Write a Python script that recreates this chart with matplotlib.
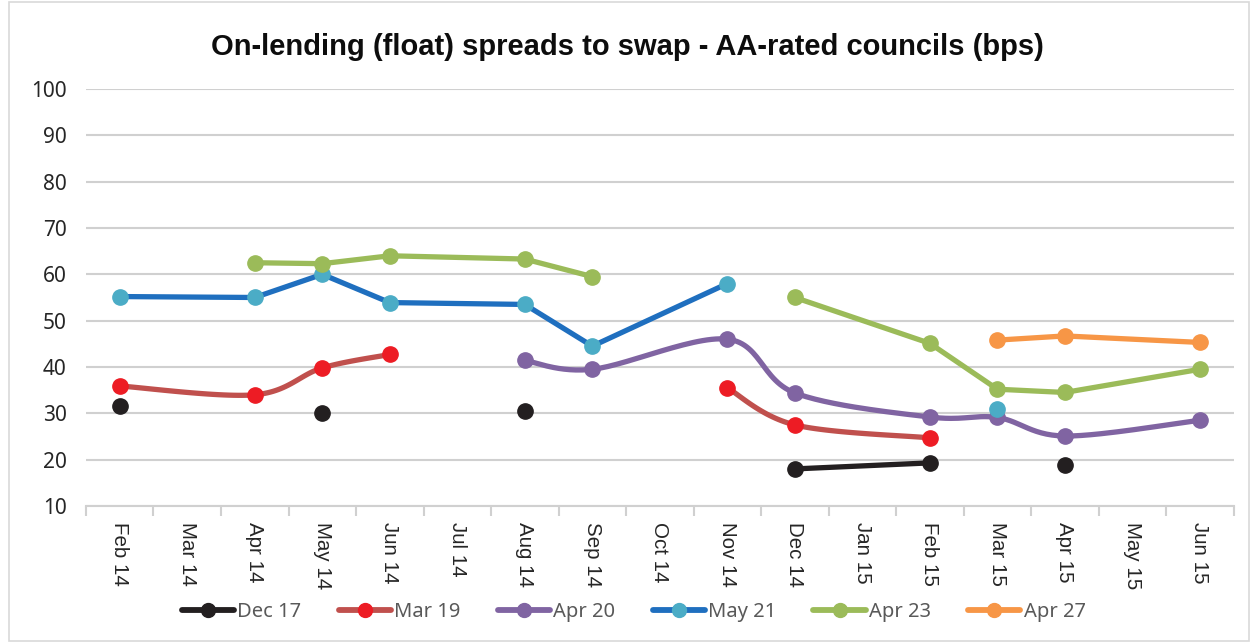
import numpy as np
import matplotlib.pyplot as plt
from matplotlib.lines import Line2D
from matplotlib.patches import Rectangle

plt.rcParams['font.family'] = ['Liberation Sans', 'DejaVu Sans']

months = ["Feb 14", "Mar 14", "Apr 14", "May 14", "Jun 14", "Jul 14", "Aug 14", "Sep 14",
          "Oct 14", "Nov 14", "Dec 14", "Jan 15", "Feb 15", "Mar 15", "Apr 15", "May 15", "Jun 15"]
nan = np.nan

# spreads (bps) by maturity; nan = no quote that month
dec17 = [31.6, nan, nan, 30.1, nan, nan, 30.5, nan, nan, nan, 18.0, nan, 19.3, nan, 18.8, nan, nan]
mar19 = [35.9, nan, 34.0, 39.8, 42.7, nan, nan, nan, nan, 35.5, 27.5, nan, 24.7, nan, nan, nan, nan]
apr20 = [nan, nan, nan, nan, nan, nan, 41.4, 39.5, nan, 46.0, 34.4, nan, 29.2, 29.1, 25.1, nan, 28.5]
may21 = [55.2, nan, 55.0, 60.0, 53.9, nan, 53.5, 44.5, nan, 58.0, nan, nan, nan, 30.9, nan, nan, nan]
apr23 = [nan, nan, 62.5, 62.3, 64.0, nan, 63.3, 59.5, nan, nan, 55.0, nan, 45.1, 35.2, 34.5, nan, 39.5]
apr27 = [nan, nan, nan, nan, nan, nan, nan, nan, nan, nan, nan, nan, nan, 45.8, 46.7, nan, 45.3]

series = [
    ("Dec 17", dec17, "#231F20", "#231F20", False),
    ("Mar 19", mar19, "#C0504D", "#ED1C24", True),
    ("Apr 20", apr20, "#8064A2", "#8064A2", True),
    ("May 21", may21, "#1F6FBF", "#4BACC6", False),
    ("Apr 23", apr23, "#9BBB59", "#9BBB59", False),
    ("Apr 27", apr27, "#F79646", "#F79646", False),
]

# months with no quotes at all are skipped over when joining points
data = np.array([s[1] for s in series], dtype=float)
active = [i for i in range(len(months)) if not np.all(np.isnan(data[:, i]))]


def smooth(xs, ys, n=30):
    # bezier smoothing through the points, excel style
    xs = np.asarray(xs, float)
    ys = np.asarray(ys, float)
    if len(xs) < 3:
        return xs, ys
    px, py = [], []
    for k in range(len(xs) - 1):
        x0, y0 = (xs[k - 1], ys[k - 1]) if k > 0 else (xs[k], ys[k])
        x1, y1 = xs[k], ys[k]
        x2, y2 = xs[k + 1], ys[k + 1]
        x3, y3 = (xs[k + 2], ys[k + 2]) if k + 2 < len(xs) else (x2, y2)
        c1 = (x1 + (x2 - x0) / 6, y1 + (y2 - y0) / 6)
        c2 = (x2 - (x3 - x1) / 6, y2 - (y3 - y1) / 6)
        t = np.linspace(0, 1, n)
        px.append((1 - t)**3 * x1 + 3 * (1 - t)**2 * t * c1[0] + 3 * (1 - t) * t**2 * c2[0] + t**3 * x2)
        py.append((1 - t)**3 * y1 + 3 * (1 - t)**2 * t * c1[1] + 3 * (1 - t) * t**2 * c2[1] + t**3 * y2)
    return np.concatenate(px), np.concatenate(py)


def segments(vals):
    segs, cur = [], []
    for i in active:
        if np.isnan(vals[i]):
            if cur:
                segs.append(cur)
            cur = []
        else:
            cur.append(i)
    if cur:
        segs.append(cur)
    return segs


fig = plt.figure(figsize=(12.55, 6.43), dpi=100)
fig.patches.append(Rectangle((0.007, 0.003), 0.988, 0.994, transform=fig.transFigure,
                             fill=False, edgecolor="#D9D9D9", linewidth=1.2))
ax = fig.add_axes([0.0685, 0.2131, 0.9145, 0.6485])

handles = []
for name, vals, lc, mc, smoothed in series:
    vals = np.array(vals, float)
    for seg in segments(vals):
        if len(seg) > 1:
            sx, sy = smooth(seg, vals[seg]) if smoothed else (seg, vals[seg])
            ax.plot(sx, sy, color=lc, linewidth=3.8, solid_capstyle="round", zorder=2)
    ax.plot(range(len(months)), vals, linestyle="none", marker="o", markersize=11,
            markerfacecolor=mc, markeredgecolor=mc, zorder=3)
    handles.append(Line2D([], [], color=lc, linewidth=4.2, marker="o", markersize=10,
                          solid_capstyle="round", markerfacecolor=mc, markeredgecolor=mc,
                          label=name))

ax.set_xlim(-0.5, len(months) - 0.5)
ax.set_ylim(10, 100)
ax.set_yticks(range(10, 101, 10))
ax.set_yticklabels([str(v) for v in range(10, 101, 10)], fontfamily="Noto Sans")
ax.yaxis.grid(True, color="#D0D0D0", linewidth=1.5)
ax.set_axisbelow(True)
for side in ["top", "right", "left"]:
    ax.spines[side].set_visible(False)
ax.spines["bottom"].set_color("#D0D0D0")
ax.spines["bottom"].set_linewidth(1.5)
ax.tick_params(axis="y", length=0, labelsize=15, labelcolor="#262626", pad=14)

ax.set_xticks(range(len(months)))
ax.set_xticklabels(months, rotation=-90, fontsize=14.8, color="#262626")
ax.tick_params(axis="x", length=0, pad=11.5)
ax.set_xticks(np.arange(-0.5, len(months)), minor=True)
ax.tick_params(axis="x", which="minor", length=7, color="#D0D0D0", width=1.5)

fig.text(0.5, 0.927, "On-lending (float) spreads to swap - AA-rated councils (bps)",
         ha="center", va="center", fontsize=21, fontweight="bold", color="#0D0D0D")

fig.legend(handles=handles, loc="center", bbox_to_anchor=(0.505, 0.048), ncol=6,
           frameon=False, handlelength=2.6, handletextpad=0.15, columnspacing=1.85,
           labelcolor="#595959", prop={"family": "Noto Sans", "size": 14.5})

fig.savefig("out.png", dpi=100)
